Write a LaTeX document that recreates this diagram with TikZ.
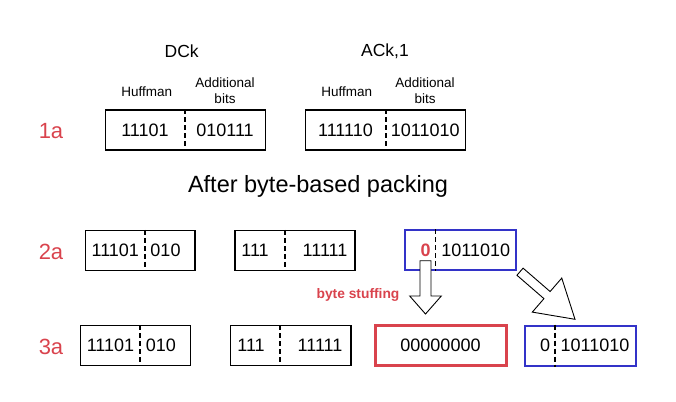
\documentclass[tikz,border=0pt]{standalone}
\usepackage{fontspec}
\setmainfont{Liberation Sans}
\usetikzlibrary{calc}
\definecolor{stuffRed}{HTML}{D9434D}
\definecolor{stuffBlue}{HTML}{3333C8}
\newcommand{\fsz}[1]{\fontsize{#1}{#1}\selectfont}
% hollow block arrow: start, tip, shaft half width, head half width, head length
\newcommand{\fatarrow}[5]{%
  \path ($(#2)!#5!(#1)$) coordinate (fatbase);
  \draw[line width=0.9pt, fill=white]
    ($(#1)!#3!90:(#2)$) -- ($(fatbase)!#3!90:(#2)$) -- ($(fatbase)!#4!90:(#2)$)
    -- (#2) -- ($(fatbase)!#4!-90:(#2)$) -- ($(fatbase)!#3!-90:(#2)$)
    -- ($(#1)!#3!-90:(#2)$) -- cycle;}

\begin{document}
\begin{tikzpicture}[x=1pt, y=-1pt,
  bitbox/.style={draw, line width=1.1pt, minimum height=40pt, inner sep=0pt},
  bits/.style={font=\fsz{18}, inner sep=0pt},
  divline/.style={line width=1.6pt, dash pattern=on 5pt off 3pt},
  rowlbl/.style={text=stuffRed, font=\fsz{22}, inner sep=0pt},
  fieldlbl/.style={font=\fontsize{13.5}{16}\selectfont, align=center, inner sep=0pt}]
\useasboundingbox (0,0) rectangle (676,401);

% row 1a: original codes
\node[font=\fsz{17.5}] (dcname) at (181.7,51) {DCk};
\node[font=\fsz{17.5}] (acname) at (385,51.7) {ACk,1};
\node[fieldlbl] (dchuf) at (146.7,91.7) {Huffman};
\node[fieldlbl] (dcadd) at (225,91) {Additional\\bits};
\node[fieldlbl] (achuf) at (346.7,91.7) {Huffman};
\node[fieldlbl] (acadd) at (425,91) {Additional\\bits};
\node[rowlbl] (lbl1) at (51,131) {1a};
\node[bitbox, minimum width=160pt] (dc) at (185.7,130) {};
\node[bitbox, minimum width=160pt] (ac) at (385.3,130) {};
\draw[divline] ([xshift=-0.7pt]dc.north) -- ([xshift=-0.7pt]dc.south);
\draw[divline] ([xshift=0.4pt]ac.north) -- ([xshift=0.4pt]ac.south);
\node[bits] (dcl) at (145,130) {11101};
\node[bits] (dcr) at (225,130) {010111};
\node[bits] (acl) at (345.5,130) {111110};
\node[bits] (acr) at (425.3,130) {1011010};

\node[font=\fsz{23.5}] (title) at (318,186) {After byte-based packing};

% row 2a: bytes
\node[rowlbl] (lbl2) at (51,251.7) {2a};
\node[bitbox, minimum width=109.3pt] (bytea) at (140.35,250.3) {};
\node[bitbox, minimum width=120pt] (byteb) at (295,250.3) {};
\node[bitbox, draw=stuffBlue, line width=2pt, minimum width=110.7pt] (bytec) at (460.35,250.3) {};
\draw[divline] ([xshift=4.65pt]bytea.north) -- ([xshift=4.65pt]bytea.south);
\draw[divline] ([xshift=-10pt]byteb.north) -- ([xshift=-10pt]byteb.south);
\draw[divline] ([xshift=-24.85pt]bytec.north) -- ([xshift=-24.85pt]bytec.south);
\node[bits] (bal) at (115.3,250.3) {11101};
\node[bits] (bar) at (165.5,250.3) {010};
\node[bits] (bbl) at (255,250.3) {111};
\node[bits] (bbr) at (325,250.3) {11111};
\node[bits, text=stuffRed, font=\fsz{18}\bfseries] (bcl) at (425.7,250.3) {0};
\node[bits] (bcr) at (475.8,250.3) {1011010};

% row 3a: after stuffing
\node[rowlbl] (lbl3) at (51,346.7) {3a};
\node[bitbox, minimum width=110pt] (outa) at (135.3,345.6) {};
\node[bitbox, minimum width=120.3pt] (outb) at (290.85,345.6) {};
\node[bitbox, draw=stuffRed, line width=3pt, minimum width=131pt] (stuff) at (440.5,345.6) {};
\node[bitbox, draw=stuffBlue, line width=2pt, minimum width=110.7pt] (outc) at (580.35,345.6) {};
\draw[divline] ([xshift=4.7pt]outa.north) -- ([xshift=4.7pt]outa.south);
\draw[divline] ([xshift=-10.85pt]outb.north) -- ([xshift=-10.85pt]outb.south);
\draw[divline] ([xshift=-25.35pt]outc.north) -- ([xshift=-25.35pt]outc.south);
\node[bits] (oal) at (110.5,345.6) {11101};
\node[bits] (oar) at (160.8,345.6) {010};
\node[bits] (obl) at (251,345.6) {111};
\node[bits] (obr) at (320,345.6) {11111};
\node[bits] (stuffbits) at (440.5,345.6) {00000000};
\node[bits] (ocl) at (545,345.6) {0};
\node[bits] (ocr) at (595,345.6) {1011010};

% block arrows
\coordinate (dnfrom) at (425.5,260.7);
\coordinate (dnto) at (425.5,314);
\coordinate (mvfrom) at (520,271.7);
\coordinate (mvto) at (575,319.3);
\fatarrow{dnfrom}{dnto}{5.5pt}{15.8pt}{18pt}
\fatarrow{mvfrom}{mvto}{4.7pt}{22.5pt}{37pt}
\node[text=stuffRed, font=\fsz{13.8}\bfseries, inner sep=0pt] (stufflbl) at (358,295) {byte stuffing};
\end{tikzpicture}
\end{document}
